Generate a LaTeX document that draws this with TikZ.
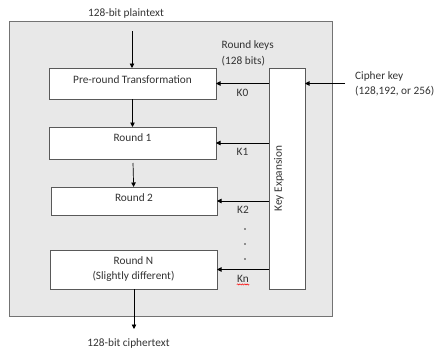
\documentclass[tikz,border=0pt]{standalone}
\usepackage{fontspec}
\setmainfont{Carlito}
\usetikzlibrary{arrows.meta,positioning,decorations.pathmorphing}

\begin{document}
\begin{tikzpicture}[x=1pt, y=-1pt,
  font=\fontsize{11.3}{15.5}\selectfont,
  >={Triangle[length=4.5pt,width=4.5pt]},
     F/.style = {rectangle, draw=black!55, fill=black!9,% outer frame
                 line width=0.8pt, anchor=north west, outer sep=0pt},
     B/.style = {rectangle, draw=black!65, fill=white,% stage boxes
                 line width=0.8pt, anchor=north west, outer sep=0pt},
     T/.style = {inner sep=0pt, text=black!80},
     A/.style = {->, line width=0.7pt},
                        ]
\useasboundingbox (0,0) rectangle (437,351);
\node[F, minimum width=323pt, minimum height=295pt] (frame) at (9,21) {};
% stages
\node[B, minimum width=167pt, minimum height=31pt] (pre) at (49,68)  {};
\node[B, minimum width=167pt, minimum height=32pt] (r1)  at (49,127) {};
\node[B, minimum width=166pt, minimum height=28pt] (r2)  at (51,187) {};
\node[B, minimum width=167pt, minimum height=39pt] (rN)  at (50,250) {};
\node[B, minimum width=36pt,  minimum height=221pt] (key) at (269,68) {};
\node[T] (pre-t) at ([yshift=-12pt]pre.north) {Pre-round Transformation};
\node[T] (r1-t)  at ([yshift=-11pt]r1.north)  {Round 1};
\node[T] (r2-t)  at ([yshift=-11pt]r2.north)  {Round 2};
\node[T, align=center] (rN-t) at ([yshift=-19pt]rN.north) {Round N\\(Slightly different)};
\node[T, rotate=90] (key-t) at ([xshift=-8pt]key.center) {Key Expansion};
% outside texts
\node[T] (plain)  at (126,13)  {128-bit plaintext};
\node[T] (cipher) at (128.5,343) {128-bit ciphertext};
\node[T, align=left, anchor=west] (rkeys) at (221.5,53.5) {Round keys\\(128 bits)};
\node[T, align=left, anchor=west] (ckey)  at (355,84) {Cipher key\\(128,192, or 256)};
% data path
\coordinate (pin)  at (132,31);
\coordinate (cout) at (134,329);
\coordinate (cin)  at (345,83.5);
\draw[A] (pin) -- (pin |- pre.north);
\draw[A] (pre) -- (r1);
\draw[A, shorten <=4pt] (r1) -- (r2);
\draw[A] (rN.south -| cout) -- (cout);
\draw[A] (cin) -- (key.east |- cin);
% round keys
\foreach \b/\k in {pre/K0, r1/K1, r2/K2, rN/Kn}
    \draw[A] (key.west |- \b.east) -- node[T, below=5pt] (\k) {\k} (\b.east);
\foreach \y in {229,244,259}
    \fill[black!80] (245,\y) circle (0.9pt);
\draw[red, line width=0.5pt, decorate, decoration={snake, amplitude=0.6pt, segment length=2.4pt}]
    ([yshift=-2pt]Kn.south west) -- ([yshift=-2pt]Kn.south east);
\end{tikzpicture}
\end{document}
